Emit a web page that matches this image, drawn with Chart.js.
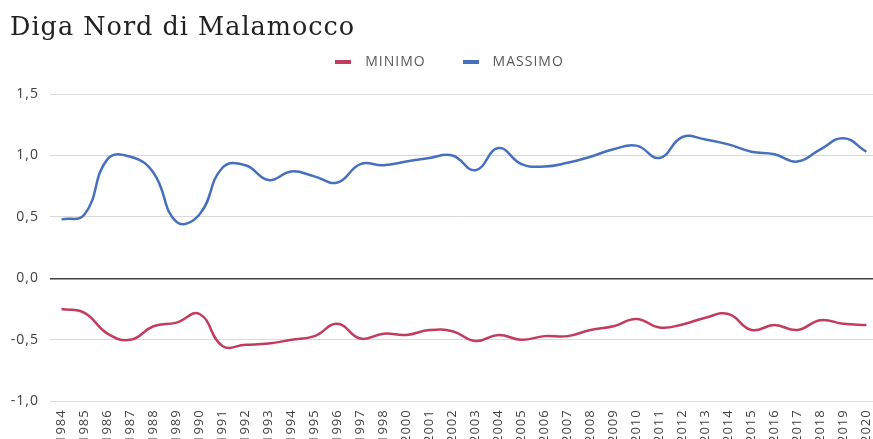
<!DOCTYPE html>
<html>
<head>
<meta charset="utf-8">
<script src="https://cdn.jsdelivr.net/npm/chart.js@4.4.1/dist/chart.umd.min.js"></script>
<style>
  html, body { margin: 0; padding: 0; background: #fff; overflow: hidden; }
  #wrap { width: 882px; height: 443px; position: relative; }
</style>
</head>
<body>
<div id="wrap"><canvas id="c"></canvas></div>
<script>
const years = ['1984','1985','1986','1987','1988','1989','1990','1991','1992','1993','1994','1995','1996','1997','1998',
  '2000','2001','2002','2003','2004','2005','2006','2007','2008','2009','2010','2011','2012','2013','2014','2015',
  '2016','2017','2018','2019','2020'];
const minimo = [-0.25,-0.28,-0.45,-0.50,-0.39,-0.36,-0.29,-0.55,-0.54,-0.53,-0.50,-0.47,-0.37,-0.49,-0.45,
  -0.46,-0.42,-0.43,-0.51,-0.46,-0.50,-0.47,-0.47,-0.42,-0.39,-0.33,-0.40,-0.375,-0.32,-0.29,-0.42,
  -0.38,-0.42,-0.34,-0.37,-0.38];
const massimo = [0.48,0.52,0.97,0.99,0.86,0.46,0.52,0.90,0.92,0.80,0.87,0.83,0.78,0.93,0.92,
  0.95,0.98,1.00,0.88,1.06,0.93,0.91,0.94,0.99,1.05,1.08,0.98,1.15,1.13,1.09,1.03,
  1.01,0.95,1.05,1.14,1.03];
const yTicks = [-1.0, -0.5, 0.0, 0.5, 1.0, 1.5];
const titleText = 'Diga Nord di Malamocco';
const seriesNames = ['MINIMO', 'MASSIMO'];
const seriesColors = ['#C23C5E', '#4670BE'];

function legendMarker(color) {
  const c = document.createElement('canvas');
  c.width = 16; c.height = 4;
  const g = c.getContext('2d');
  g.fillStyle = color;
  g.fillRect(0, 0, 16, 4);
  return c;
}

const spacingPlugin = {
  id: 'spacing',
  beforeInit(chart) { chart.ctx.letterSpacing = '1px'; },
  beforeUpdate(chart) { chart.ctx.letterSpacing = '1px'; },
  beforeLayout(chart) { chart.ctx.letterSpacing = '1px'; },
  beforeDraw(chart) { chart.ctx.letterSpacing = '1px'; }
};

new Chart(document.getElementById('c'), {
  type: 'line',
  plugins: [spacingPlugin],
  data: {
    labels: years,
    datasets: [
      { label: seriesNames[0], data: minimo, borderColor: seriesColors[0], backgroundColor: seriesColors[0],
        borderWidth: 2.5, pointRadius: 0, pointStyle: legendMarker(seriesColors[0]), tension: 0.45, fill: false },
      { label: seriesNames[1], data: massimo, borderColor: seriesColors[1], backgroundColor: seriesColors[1],
        borderWidth: 2.5, pointRadius: 0, pointStyle: legendMarker(seriesColors[1]), tension: 0.45, fill: false }
    ]
  },
  options: {
    responsive: true,
    maintainAspectRatio: false,
    animation: false,
    layout: { padding: { left: 10, right: 0, top: 0, bottom: 0 } },
    plugins: {
      title: {
        display: true, text: titleText, align: 'start',
        color: '#222', font: { family: 'DejaVu Serif', size: 25.5, weight: 'normal', lineHeight: 1.2 },
        padding: { top: 13.3, bottom: -18.9 }
      },
      subtitle: {
        display: true, text: '', position: 'top', weight: 500,
        font: { size: 10, lineHeight: 1.5 }, padding: 0
      },
      legend: {
        display: true, position: 'top', align: 'center',
        labels: {
          color: '#595959', font: { family: 'Open Sans', size: 14 },
          usePointStyle: true, pointStyleWidth: 30, boxHeight: 4, padding: 30
        }
      },
      tooltip: { enabled: false }
    },
    scales: {
      x: {
        offset: true,
        grid: { display: false },
        border: { display: false },
        ticks: {
          color: '#404040', font: { family: 'Open Sans', size: 13 },
          maxRotation: 90, minRotation: 90, autoSkip: false, padding: 0
        }
      },
      y: {
        min: -1, max: 1.5,
        afterBuildTicks: (axis) => { axis.ticks = yTicks.map(v => ({ value: v })); },
        afterFit: (scale) => { scale.width = 40; },
        grid: {
          drawTicks: false,
          color: (ctx) => (ctx.tick && ctx.tick.value === 0) ? '#404040' : '#d9d9d9',
          lineWidth: (ctx) => (ctx.tick && ctx.tick.value === 0) ? 1.5 : 1
        },
        border: { display: false },
        ticks: {
          color: '#404040', font: { family: 'Open Sans', size: 14 }, padding: 11,
          callback: (v) => Number(v).toFixed(1).replace('.', ',')
        }
      }
    }
  }
});
</script>
</body>
</html>
